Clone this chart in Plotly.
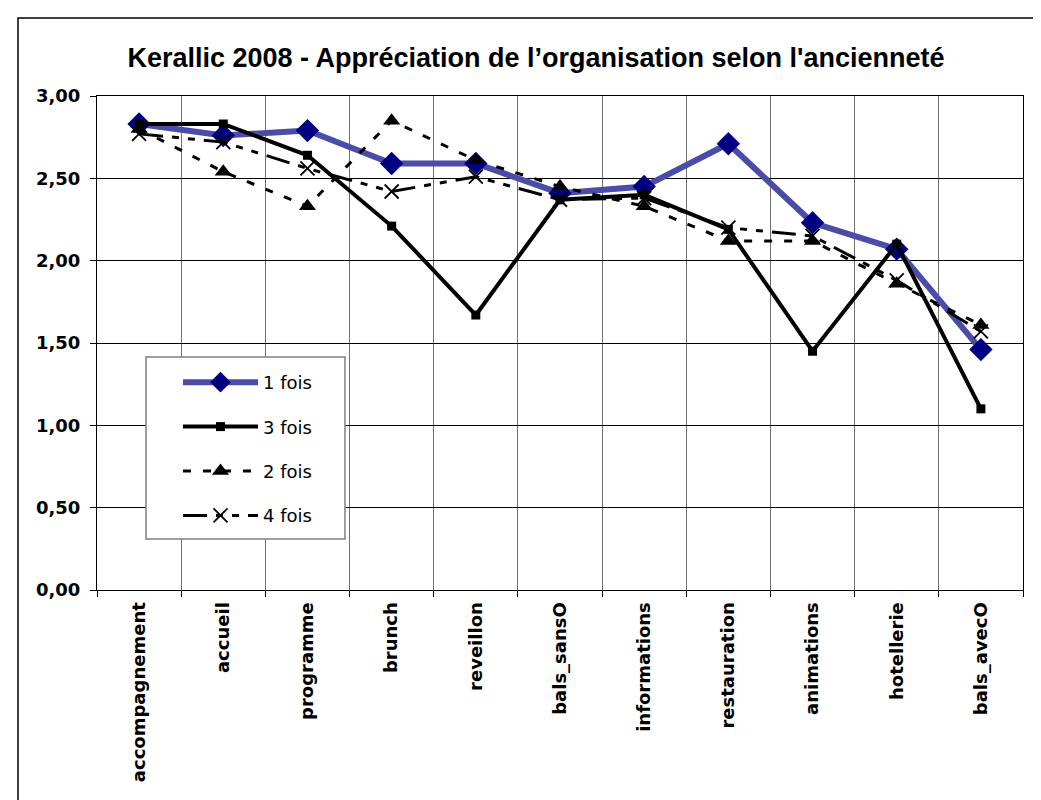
import plotly.graph_objects as go

categories = ["accompagnement", "accueil", "programme", "brunch", "reveillon", "bals_sansO",
              "informations", "restauration", "animations", "hotellerie", "bals_avecO"]
fois1 = [2.83, 2.76, 2.79, 2.59, 2.59, 2.41, 2.45, 2.71, 2.23, 2.07, 1.46]
fois3 = [2.83, 2.83, 2.64, 2.21, 1.67, 2.37, 2.40, 2.19, 1.45, 2.10, 1.10]
fois2 = [2.80, 2.54, 2.33, 2.85, 2.61, 2.45, 2.33, 2.12, 2.12, 1.86, 1.61]
fois4 = [2.77, 2.72, 2.56, 2.42, 2.51, 2.37, 2.38, 2.20, 2.15, 1.88, 1.57]
y_ticks = [0, 0.5, 1.0, 1.5, 2.0, 2.5, 3.0]

TITLE_FONT = "Liberation Sans, Arial, sans-serif"
FONT = "DejaVu Sans, Verdana, sans-serif"

fig = go.Figure()
fig.add_trace(go.Scatter(
    x=categories, y=fois1, name="1 fois", mode="lines+markers", legendgroup="a",
    line=dict(color="#4B4BA8", width=6),
    marker=dict(symbol="diamond", size=18, color="#000080", line=dict(width=0))))
fig.add_trace(go.Scatter(
    x=categories, y=fois3, name="3 fois", mode="lines+markers", legendgroup="b",
    line=dict(color="black", width=4),
    marker=dict(symbol="square", size=9, color="black")))
fig.add_trace(go.Scatter(
    x=categories, y=fois2, name="2 fois", mode="lines+markers", legendgroup="c",
    line=dict(color="black", width=3, dash="8px,12px"),
    marker=dict(symbol="triangle-up", size=15, color="black")))
fig.add_trace(go.Scatter(
    x=categories, y=fois4, name="4 fois", mode="lines+markers", legendgroup="d",
    line=dict(color="black", width=3, dash="24px,9px,7px,9px,7px,9px"),
    marker=dict(symbol="x-thin", size=14, color="black", line=dict(width=1.8, color="black"))))

W, H = 1041, 800
L, R, T, B = 89, W - 1015, 88, H - 582
pw, ph = W - L - R, H - T - B

def px_x(px):
    return (px - L) / pw

def px_y(py):
    return (H - B - py) / ph

fig.update_layout(
    width=W, height=H,
    margin=dict(l=L, r=R, t=T, b=B),
    paper_bgcolor="white", plot_bgcolor="white",
    font=dict(family=FONT, color="black"),
    title=dict(text="<b>Kerallic 2008 - Appréciation de l’organisation selon l'ancienneté</b>",
               x=528 / W, xref="container", xanchor="center", y=1 - 50 / H, yanchor="middle",
               font=dict(size=27, family=TITLE_FONT, color="black")),
    separators=",.",
    showlegend=True,
    legend=dict(x=px_x(170), y=px_y(356), xanchor="left", yanchor="top",
                bgcolor="rgba(0,0,0,0)", borderwidth=0,
                font=dict(size=18, family=FONT), itemwidth=75,
                tracegroupgap=18, traceorder="grouped"),
    shapes=[
        dict(type="rect", xref="paper", yref="paper",
             x0=px_x(10), x1=px_x(1040), y0=px_y(1000), y1=px_y(10),
             line=dict(color="black", width=1.5), fillcolor="rgba(0,0,0,0)", layer="below"),
        dict(type="rect", xref="paper", yref="paper",
             x0=px_x(138), x1=px_x(337), y0=px_y(531), y1=px_y(349),
             line=dict(color="#808080", width=1.5), fillcolor="white", layer="above"),
    ],
)
fig.update_xaxes(
    type="category", tickson="boundaries", tickangle=-90,
    showgrid=True, gridcolor="#707070", gridwidth=1,
    showline=True, linecolor="black", linewidth=1, mirror=True,
    ticks="outside", ticklen=6, tickcolor="black",
    tickfont=dict(size=18, family=FONT, color="black", weight="bold"),
    ticklabelstandoff=4,
    range=[-0.5, len(categories) - 0.5])
fig.update_yaxes(
    range=[0, 3], tickvals=y_ticks, tickformat=".2f",
    showgrid=True, gridcolor="black", gridwidth=1,
    showline=True, linecolor="black", linewidth=1, mirror=True,
    ticks="outside", ticklen=6, tickcolor="black", zeroline=False,
    ticklabelstandoff=6,
    tickfont=dict(size=18, family=FONT, color="black", weight="bold"))

fig.write_html("out.html")
